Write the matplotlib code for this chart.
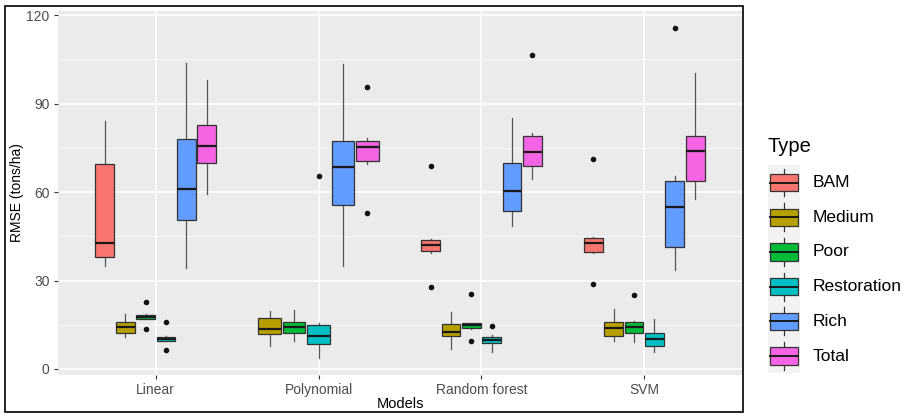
import numpy as np
from matplotlib import pyplot as plt
from matplotlib.patches import Rectangle

plt.rcParams['font.family'] = ['Liberation Sans', 'DejaVu Sans']

# categories
models = ['Linear', 'Polynomial', 'Random forest', 'SVM']
types = ['BAM', 'Medium', 'Poor', 'Restoration', 'Rich', 'Total']
colors = ['#F8766D', '#B79F00', '#00BA38', '#00BFC4', '#619CFF', '#F564E3']

nan = np.nan
# box statistics, rows = models, columns = types
whis_lo = [[35.0, 10.9, 16.8, 9.4, 34.3, 59.3],
           [nan, 7.8, 9.6, 3.6, 34.9, 69.4],
           [39.5, 6.9, 13.4, 5.7, 48.6, 64.5],
           [39.2, 9.6, 9.3, 5.7, 33.7, 57.5]]
q1 = [[38.1, 12.2, 16.8, 9.4, 50.4, 69.7],
      [nan, 11.9, 12.3, 8.4, 55.7, 70.6],
      [40.0, 11.2, 13.8, 8.7, 53.6, 68.7],
      [39.7, 11.2, 12.3, 7.7, 41.3, 63.6]]
med = [[42.8, 14.1, 17.5, 10.2, 60.9, 75.8],
       [nan, 13.5, 14.1, 11.3, 68.6, 75.4],
       [41.9, 12.6, 14.9, 9.8, 60.4, 73.6],
       [42.7, 13.8, 14.2, 10.3, 55.0, 73.8]]
q3 = [[69.5, 16.0, 18.3, 10.9, 77.9, 82.7],
      [nan, 17.2, 15.8, 14.9, 77.4, 77.4],
      [43.6, 15.4, 15.5, 10.9, 69.9, 79.1],
      [44.4, 15.8, 15.8, 12.2, 63.8, 78.9]]
whis_hi = [[84.1, 18.5, 18.6, 11.3, 103.8, 97.9],
           [nan, 19.7, 20.0, 15.7, 103.6, 78.2],
           [44.1, 19.3, 15.5, 11.5, 85.1, 80.2],
           [44.9, 20.2, 16.3, 16.9, 65.5, 100.3]]
fliers = [[[], [], [22.8, 13.6], [15.9, 6.3], [], []],
          [[], [], [], [65.5], [], [95.8, 52.8]],
          [[68.9, 27.7], [], [25.5, 9.6], [14.7], [], [106.5]],
          [[71.3, 28.8], [], [25.2], [], [115.5], []]]

W, H = 915, 420
fig = plt.figure(figsize=(W / 100, H / 100), dpi=100)
ax = fig.add_axes([58 / W, (H - 375) / H, (742 - 58) / W, (375 - 10.5) / H])
ax.set_facecolor('#EBEBEB')

# build boxes, dodged like ggplot (missing groups are dropped)
dodge = 0.75
for i in range(len(models)):
    present = [j for j in range(len(types)) if not np.isnan(med[i][j])]
    n = len(present)
    slot = dodge / n
    stats, pos, cols = [], [], []
    for k, j in enumerate(present):
        stats.append(dict(whislo=whis_lo[i][j], q1=q1[i][j], med=med[i][j],
                          q3=q3[i][j], whishi=whis_hi[i][j], fliers=fliers[i][j]))
        pos.append(i + 1 + (k - (n - 1) / 2) * slot)
        cols.append(colors[j])
    bp = ax.bxp(stats, positions=pos, widths=slot * 0.92, patch_artist=True,
                showcaps=False, manage_ticks=False,
                boxprops=dict(edgecolor='#333333', linewidth=0.9),
                whiskerprops=dict(color='#555555', linewidth=0.9),
                medianprops=dict(color='#1a1a1a', linewidth=1.6),
                flierprops=dict(marker='o', markerfacecolor='#111111',
                                markeredgecolor='#111111', markersize=3))
    for b, c in zip(bp['boxes'], cols):
        b.set_facecolor(c)
        b.set_zorder(3)
    for m in bp['medians']:
        m.set_zorder(4)

ax.set_xlim(0.4, 4.6)
ax.set_ylim(-2.05, 121.6)
ax.set_xticks(range(1, len(models) + 1))
ax.set_xticklabels(models)
ax.set_yticks([0, 30, 60, 90, 120])
ax.set_yticks([15, 45, 75, 105], minor=True)
ax.grid(which='major', color='white', linewidth=1.1)
ax.grid(which='minor', axis='y', color='white', linewidth=0.5)
ax.set_axisbelow(True)
for s in ax.spines.values():
    s.set_visible(False)
ax.tick_params(axis='both', which='major', length=3, width=0.8, color='#333333',
               labelcolor='#4D4D4D', labelsize=10, pad=3)
ax.tick_params(axis='y', which='minor', length=0)
ax.set_xlabel('Models', fontsize=10.5, color='black', labelpad=0)
ax.set_ylabel('RMSE (tons/ha)', fontsize=10, color='black', labelpad=2)

# black frame around the plot area
fig.patches.append(Rectangle((4.5 / W, (H - 411.5) / H), (743 - 4.5) / W, (411.5 - 5.5) / H,
                             transform=fig.transFigure, fill=False,
                             edgecolor='black', linewidth=1.2))

# legend drawn in its own axes, units in pixels from (750, 120)
lg = fig.add_axes([750 / W, (H - 380) / H, 165 / W, 260 / H])
lg.set_xlim(0, 165)
lg.set_ylim(260, 0)
lg.axis('off')
lg.text(18, 31.5, 'Type', fontsize=14.5, va='baseline', ha='left')
row_h = 34.7
top = 45.2
for j, t in enumerate(types):
    y0 = top + j * row_h
    lg.add_patch(Rectangle((18, y0), 32, row_h, facecolor='#F2F2F2', edgecolor='none'))
    lg.plot([34, 34], [y0 + 0.1 * row_h, y0 + 0.9 * row_h], color='#333333', lw=0.9)
    lg.add_patch(Rectangle((20, y0 + 0.25 * row_h), 28, 0.5 * row_h,
                           facecolor=colors[j], edgecolor='#333333', lw=0.9, zorder=3))
    lg.plot([20, 48], [y0 + 0.5 * row_h] * 2, color='#1a1a1a', lw=1.4, zorder=4)
    lg.text(63, y0 + 0.5 * row_h, t, fontsize=12.5, va='center', ha='left')

fig.savefig('out.png', dpi=100)
